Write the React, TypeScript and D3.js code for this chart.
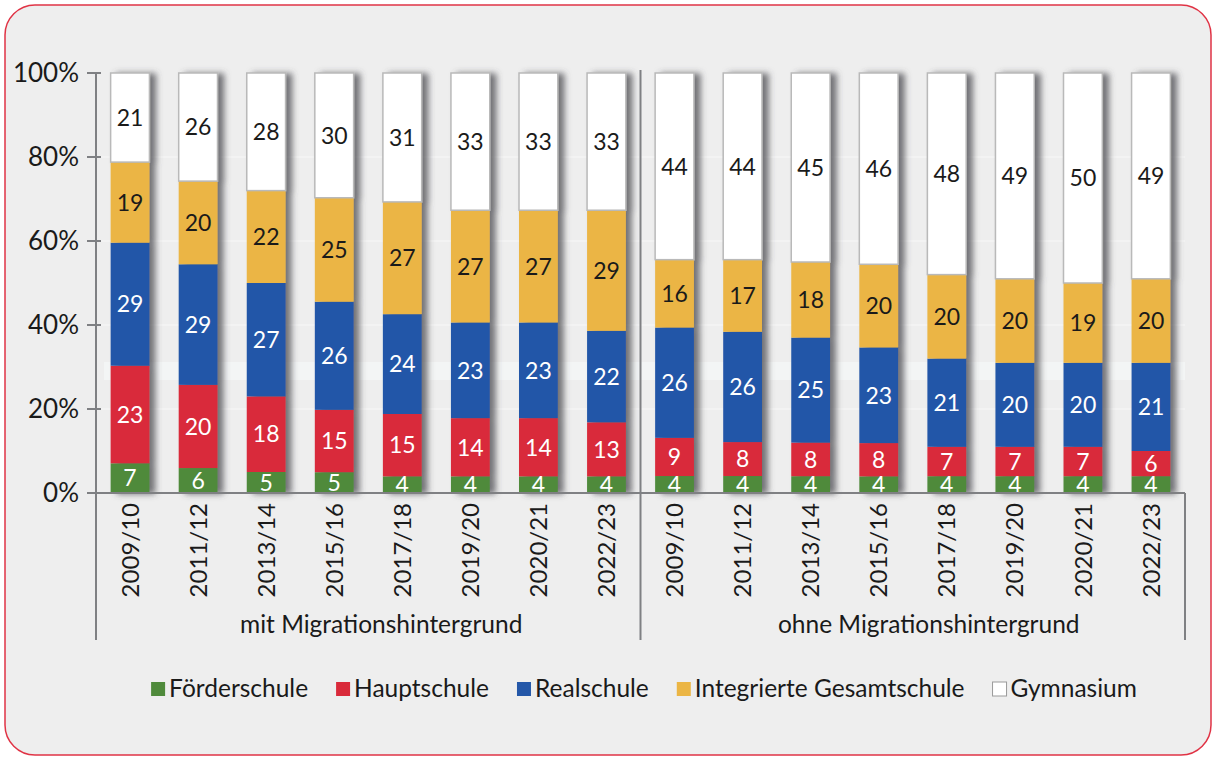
import React, { useRef, useEffect } from "react";
import * as d3 from "d3";

// Schulbesuch in Klasse 7 nach Migrationshintergrund (Anteile in %)
const years = ["2009/10", "2011/12", "2013/14", "2015/16", "2017/18", "2019/20", "2020/21", "2022/23"];
const groups = ["mit Migrationshintergrund", "ohne Migrationshintergrund"];
const schoolTypes = ["Förderschule", "Hauptschule", "Realschule", "Integrierte Gesamtschule", "Gymnasium"];
const colors = ["#4f8a3b", "#d92a3a", "#2457a8", "#ebb544", "#ffffff"];
const labelColors = ["#ffffff", "#ffffff", "#ffffff", "#1a1a1a", "#1a1a1a"];

const foerderMit = [7, 6, 5, 5, 4, 4, 4, 4];
const hauptMit = [23, 20, 18, 15, 15, 14, 14, 13];
const realMit = [29, 29, 27, 26, 24, 23, 23, 22];
const igsMit = [19, 20, 22, 25, 27, 27, 27, 29];
const gymMit = [21, 26, 28, 30, 31, 33, 33, 33];

const foerderOhne = [4, 4, 4, 4, 4, 4, 4, 4];
const hauptOhne = [9, 8, 8, 8, 7, 7, 7, 6];
const realOhne = [26, 26, 25, 23, 21, 20, 20, 21];
const igsOhne = [16, 17, 18, 20, 20, 20, 19, 20];
const gymOhne = [44, 44, 45, 46, 48, 49, 50, 49];

const yTicks = [0, 0.2, 0.4, 0.6, 0.8, 1];

const W = 1214;
const H = 758;
const FONT = "Lato, 'Open Sans', sans-serif";

const App = () => {
  const svgRef = useRef<SVGSVGElement>(null);

  useEffect(() => {
    const svg = d3.select(svgRef.current);
    svg.selectAll("*").remove();

    const margin = { top: 73, left: 96, right: 1185, bottom: 493 };

    // build rows for the stack
    const mit = [foerderMit, hauptMit, realMit, igsMit, gymMit];
    const ohne = [foerderOhne, hauptOhne, realOhne, igsOhne, gymOhne];
    const rows: any[] = [];
    groups.forEach((g, gi) => {
      const src = gi === 0 ? mit : ohne;
      years.forEach((yr, i) => {
        const row: any = { key: g + "|" + yr, year: yr };
        schoolTypes.forEach((s, si) => (row[s] = src[si][i]));
        rows.push(row);
      });
    });

    const x = d3
      .scaleBand()
      .domain(rows.map((d) => d.key))
      .range([margin.left, margin.right])
      .paddingInner(0.43)
      .paddingOuter(0.215);

    const y = d3.scaleLinear().domain([0, 1]).range([margin.bottom, margin.top]);

    const stack = d3.stack().keys(schoolTypes).offset(d3.stackOffsetExpand);
    const series = stack(rows);

    // background + border
    svg.append("rect").attr("width", W).attr("height", H).attr("fill", "#ffffff");
    svg
      .append("rect")
      .attr("x", 5)
      .attr("y", 5)
      .attr("width", 1206)
      .attr("height", 750)
      .attr("rx", 30)
      .attr("fill", "#eeeeee")
      .attr("stroke", "#e03345")
      .attr("stroke-width", 1.5);

    const defs = svg.append("defs");
    const f = defs
      .append("filter")
      .attr("id", "shadow")
      .attr("x", "-20%")
      .attr("y", "-5%")
      .attr("width", "160%")
      .attr("height", "110%");
    f.append("feDropShadow")
      .attr("dx", 6)
      .attr("dy", 1)
      .attr("stdDeviation", 3)
      .attr("flood-color", "#4a4a4f")
      .attr("flood-opacity", 0.75);

    // faint gridlines
    svg
      .append("g")
      .selectAll("line")
      .data(yTicks.filter((t) => t > 0 && t < 1))
      .join("line")
      .attr("x1", margin.left)
      .attr("x2", margin.right)
      .attr("y1", (d) => y(d))
      .attr("y2", (d) => y(d))
      .attr("stroke", "#f7f7f7")
      .attr("stroke-width", 1.2);

    // light band artefact
    svg
      .append("rect")
      .attr("x", margin.left + 8)
      .attr("y", 362)
      .attr("width", margin.right - margin.left - 8)
      .attr("height", 18)
      .attr("fill", "#f4f6f6")
      .attr("opacity", 0.8);

    // bars
    const barG = svg
      .append("g")
      .selectAll("g")
      .data(rows)
      .join("g")
      .attr("filter", "url(#shadow)");

    barG.each(function (row, i) {
      const g = d3.select(this);
      series.forEach((s, si) => {
        const seg = s[i];
        g.append("rect")
          .attr("x", x(row.key)!)
          .attr("width", x.bandwidth())
          .attr("y", y(seg[1]))
          .attr("height", y(seg[0]) - y(seg[1]))
          .attr("fill", colors[si])
          .attr("stroke", si === 4 ? "#b9b9b9" : "none")
          .attr("stroke-width", 1.5);
      });
    });

    // value labels
    const labG = svg.append("g").attr("font-family", FONT).attr("font-size", 23).attr("text-anchor", "middle");
    series.forEach((s, si) => {
      labG
        .append("g")
        .selectAll("text")
        .data(s)
        .join("text")
        .attr("x", (d: any) => x(d.data.key)! + x.bandwidth() / 2)
        .attr("y", (d) => (y(d[0]) + y(d[1])) / 2)
        .attr("dy", "0.36em")
        .attr("fill", labelColors[si])
        .text((d: any) => d.data[schoolTypes[si]]);
    });

    const axisColor = "#7f8083";

    // y axis
    const yAx = svg.append("g");
    yAx
      .append("line")
      .attr("x1", margin.left)
      .attr("x2", margin.left)
      .attr("y1", margin.top)
      .attr("y2", 640)
      .attr("stroke", axisColor)
      .attr("stroke-width", 2);
    yAx
      .selectAll("line.tick")
      .data(yTicks)
      .join("line")
      .attr("class", "tick")
      .attr("x1", 87)
      .attr("x2", 101)
      .attr("y1", (d) => y(d))
      .attr("y2", (d) => y(d))
      .attr("stroke", axisColor)
      .attr("stroke-width", 2);
    yAx
      .selectAll("text")
      .data(yTicks)
      .join("text")
      .attr("x", 79)
      .attr("y", (d) => y(d))
      .attr("dy", "0.36em")
      .attr("text-anchor", "end")
      .attr("font-family", FONT)
      .attr("font-size", 26)
      .attr("fill", "#1a1a1a")
      .text((d) => d3.format(".0%")(d));

    // x axis
    svg
      .append("line")
      .attr("x1", 87)
      .attr("x2", margin.right)
      .attr("y1", margin.bottom)
      .attr("y2", margin.bottom)
      .attr("stroke", axisColor)
      .attr("stroke-width", 2);
    const mid = x(rows[8].key)! - (x.step() - x.bandwidth()) / 2;
    [mid, margin.right].forEach((xx, k) => {
      svg
        .append("line")
        .attr("x1", xx)
        .attr("x2", xx)
        .attr("y1", k === 0 ? 70 : margin.bottom)
        .attr("y2", 640)
        .attr("stroke", axisColor)
        .attr("stroke-width", 2);
    });

    svg
      .append("g")
      .selectAll("text")
      .data(rows)
      .join("text")
      .attr("transform", (d) => `translate(${x(d.key)! + x.bandwidth() / 2},503) rotate(-90)`)
      .attr("dy", "0.36em")
      .attr("text-anchor", "end")
      .attr("font-family", FONT)
      .attr("font-size", 24)
      .attr("fill", "#1a1a1a")
      .text((d) => d.year);

    // group labels
    const groupCenters = [(margin.left + mid) / 2 + 13, (mid + margin.right) / 2 + 16];
    svg
      .append("g")
      .selectAll("text")
      .data(groups)
      .join("text")
      .attr("x", (d, i) => groupCenters[i])
      .attr("y", 633)
      .attr("text-anchor", "middle")
      .attr("font-family", FONT)
      .attr("font-size", 24.5)
      .attr("fill", "#1a1a1a")
      .text((d) => d);

    // legend
    const leg = svg.append("g").attr("font-family", FONT).attr("font-size", 24.5);
    const gap = 28;
    let cx = 0;
    schoolTypes.forEach((s, i) => {
      const it = leg.append("g");
      it.append("rect")
        .attr("x", 0)
        .attr("y", -15)
        .attr("width", 14)
        .attr("height", 14)
        .attr("fill", colors[i])
        .attr("stroke", i === 4 ? "#9a9a9a" : "none")
        .attr("stroke-width", 1);
      const t = it.append("text").attr("x", 18).attr("y", 0).attr("fill", "#1a1a1a").text(s);
      const w = (t.node() as SVGTextElement).getComputedTextLength();
      it.attr("transform", `translate(${cx},697)`);
      cx += 18 + w + gap;
    });
    const total = cx - gap;
    leg.attr("transform", `translate(${644 - total / 2},0)`);
  }, []);

  return (
    <div style={{ position: "fixed", left: 0, top: 0 }}>
      <svg ref={svgRef} width={W} height={H} style={{ display: "block" }} />
    </div>
  );
};

export default App;
